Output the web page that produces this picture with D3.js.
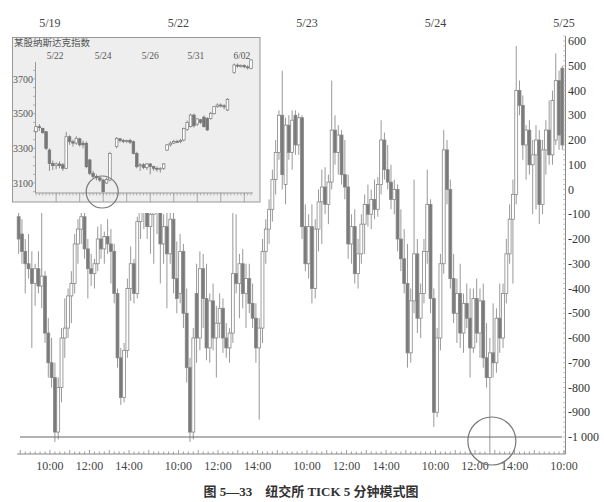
<!DOCTYPE html>
<html>
<head>
<meta charset="utf-8">
<script src="https://cdn.jsdelivr.net/npm/d3@7.9.0/dist/d3.min.js"></script>
<style>
  body { margin: 0; background: #fff; }
  svg { display: block; }
</style>
</head>
<body>
<svg id="chart" width="604" height="502"></svg>
<script>
// NYSE TICK, 10 minute bars, [open, high, low, close]
const bars0518 = [
  [-110,-60,-260,-200],[-180,-120,-300,-250],[-250,-200,-420,-300],[-300,-180,-360,-320],
  [-320,-250,-640,-380],[-380,-300,-470,-320],[-320,-250,-420,-390]
];
const bars0519 = [
  [-390,-90,-480,-350],[-350,-330,-620,-580],[-580,-520,-760,-700],[-700,-600,-800,-760],
  [-760,-700,-1020,-980],[-980,-760,-1010,-800],[-800,-560,-860,-600],[-600,-440,-680,-560],
  [-560,-400,-600,-430],[-430,-330,-540,-380],[-380,-180,-420,-220],[-220,-120,-300,-160],
  [-160,-60,-220,-110],[-110,-80,-280,-240],[-240,-200,-440,-320],[-320,-260,-390,-340],
  [-340,-280,-400,-300],[-300,-150,-330,-200],[-200,-140,-280,-240],[-240,-170,-300,-190],
  [-190,-120,-260,-220],[-220,-160,-380,-250],[-250,-220,-460,-420],[-420,-400,-720,-680],
  [-680,-640,-870,-840],[-840,-620,-860,-650],[-650,-360,-680,-400],[-400,-230,-450,-300],
  [-300,-280,-460,-420],[-420,-110,-440,-130],[-130,-50,-200,-80],[-80,0,-160,-40],
  [-40,20,-200,-150],[-150,-60,-260,-100],[-100,-30,-300,-90],[-90,0,-180,-60],
  [-60,40,-380,-220],[-220,-100,-300,-150],[-150,-60,-480,-260]
];
const bars0522 = [
  [-260,-80,-300,-120],[-120,-60,-420,-360],[-360,-210,-500,-440],[-420,-180,-460,-250],
  [-250,-220,-560,-500],[-500,-400,-780,-720],[-720,-680,-1020,-980],[-980,-560,-1010,-600],
  [-420,-300,-700,-600],[-600,-250,-650,-320],[-320,-260,-560,-440],[-440,-300,-690,-640],
  [-640,-420,-700,-450],[-450,-380,-650,-600],[-600,-470,-760,-540],[-540,-420,-600,-480],
  [-480,-440,-660,-600],[-600,-540,-680,-640],[-640,-560,-700,-580],[-580,-90,-620,-340],
  [-340,-100,-420,-380],[-380,-260,-520,-300],[-300,-240,-480,-420],[-420,-300,-560,-360],
  [-360,-300,-500,-460],[-460,-380,-560,-520],[-520,-460,-700,-640],[-640,-520,-930,-560],
  [-560,-200,-620,-250],[-250,-120,-300,-160],[-160,-40,-220,-80],[-80,80,-130,40],
  [40,200,-20,150],[150,320,120,300],[300,480,0,60],[20,290,-60,260],
  [260,300,120,150],[150,320,80,280],[300,320,140,180]
];
const bars0523 = [
  [180,310,140,290],[290,300,-200,-150],[-150,-60,-330,-300],[-300,-100,-360,-150],
  [-150,-60,-460,-400],[-400,-120,-440,-160],[-160,0,-250,-50],[-50,80,-220,10],
  [10,90,-100,-60],[-60,60,-140,30],[30,440,0,240],[240,300,100,150],
  [150,260,60,220],[220,240,20,60],[60,200,-40,10],[10,60,-280,-220],
  [-220,-100,-300,-150],[-150,-80,-380,-340],[-340,-200,-400,-260],[-260,-100,-300,-140],
  [-140,-20,-260,-60],[-60,20,-150,-100],[-100,0,-160,-40],[-40,40,-120,-80],
  [-80,50,-110,20],[20,280,-20,200],[200,230,40,80],[80,180,0,30],
  [30,100,-80,-40],[-40,40,-100,0],[0,20,-250,-200],[-200,-80,-330,-280],
  [-280,-160,-420,-380],[-380,-220,-720,-660],[-660,-400,-700,-450],[-450,40,-500,-260],
  [-260,-200,-580,-520],[-520,-380,-600,-420],[-420,-200,-460,-250]
];
const bars0524 = [
  [-250,80,-300,-60],[-60,-40,-500,-440],[-440,-400,-960,-900],[-900,-560,-920,-600],
  [-600,-260,-650,-300],[-300,240,-340,160],[160,200,-60,0],[0,40,-400,-360],
  [-360,-260,-540,-500],[-500,-360,-620,-420],[-420,-300,-640,-580],[-580,-420,-660,-460],
  [-460,-380,-560,-520],[-520,-400,-760,-640],[-640,-400,-660,-440],[-440,-360,-620,-580],
  [-580,-400,-680,-450],[-450,-380,-720,-680],[-680,-540,-800,-760],[-760,-600,-1060,-660],
  [-660,-460,-760,-700],[-700,-480,-740,-520],[-520,-380,-660,-600],[-600,-380,-640,-420],
  [-420,-200,-460,-260],[-260,-60,-300,-120],[-120,40,-380,-20],[-20,580,-60,400],
  [400,440,300,340],[340,380,120,180],[180,260,40,240],[240,280,60,100],
  [100,200,-100,140],[140,260,-80,200],[200,240,-140,-60],[-60,200,-100,160],
  [160,280,60,240],[240,360,100,140],[140,400,100,360]
];
const bars0525 = [
  [200,550,180,440],[440,480,160,220],[490,500,160,180]
];

const sessionDays = [-1, 0, 1, 2, 3, 4];
const sessionStarts = ['14:50', '9:30', '9:30', '9:30', '9:30', '9:30'];
const sessionBars = [bars0518, bars0519, bars0522, bars0523, bars0524, bars0525];

const dayLabels = ['5/19', '5/22', '5/23', '5/24', '5/25'];
const timeLabels = ['10:00', '12:00', '14:00'];
const tickLevels = d3.range(-1000, 601, 100);
const baseLevel = -1000;

// inset: index, hourly bars, null = no trading
const insetBars = [
  [3396,3430,3390,3425],[3425,3440,3400,3420],[3415,3420,3385,3390],[3396,3400,3290,3300],
  [3290,3300,3170,3213],[3213,3230,3175,3200],[3200,3220,3180,3210],[3210,3225,3185,3200],
  [3205,3215,3170,3185],[3185,3395,3180,3367],[3367,3375,3320,3338],[3338,3350,3310,3330],
  [3330,3370,3320,3358],[3355,3362,3310,3320],[3330,3345,3300,3320],[3329,3340,3185,3194],
  [3233,3240,3145,3156],[3156,3170,3125,3137],[3137,3150,3115,3130],[3130,3135,3105,3117],
  [3117,3125,3045,3050],[3100,3130,3095,3120],[3117,3280,3110,3271],
  null,
  [3310,3365,3300,3358],[3355,3360,3335,3345],[3345,3355,3330,3340],[3340,3350,3330,3345],
  [3345,3355,3325,3335],[3338,3345,3265,3271],[3271,3280,3185,3194],[3200,3215,3170,3205],
  [3205,3215,3180,3190],[3190,3215,3175,3210],[3210,3215,3150,3195],[3195,3200,3170,3185],
  [3185,3195,3165,3180],[3180,3190,3160,3185],[3185,3215,3175,3210],
  [3290,3325,3285,3320],[3320,3340,3310,3330],[3330,3350,3325,3340],[3340,3350,3330,3338],
  [3338,3355,3330,3345],[3348,3420,3340,3415],[3410,3460,3400,3450],[3425,3500,3420,3492],
  [3492,3500,3420,3430],[3440,3475,3430,3470],[3465,3470,3440,3450],[3480,3490,3420,3425],
  [3473,3480,3400,3406],[3473,3510,3465,3502],[3500,3545,3495,3540],[3540,3560,3535,3550],
  [3550,3560,3535,3545],[3545,3555,3525,3540],[3521,3590,3515,3583],
  null,
  [3737,3790,3730,3781],[3780,3790,3765,3775],[3775,3785,3765,3778],[3778,3785,3762,3770],
  [3770,3780,3755,3768],[3762,3815,3755,3810]
];
const insetTitle = '某股纳斯达克指数';
const insetDates = ['5/22', '5/24', '5/26', '5/31', '6/02'];
const insetDateSlots = [5.7, 20, 34, 47.6, 61.3];
const insetLevels = [3100, 3300, 3500, 3700];

const caption = '图 5—33\u3000纽交所 TICK 5 分钟模式图';

// ---------------------------------------------------------------
const OPEN = 570, SESSION = 390, BAR = 10;
const toMin = s => { const [h, m] = s.split(':').map(Number); return h * 60 + m; };
const T = (day, clock) => day * SESSION + toMin(clock) - OPEN;

const bars = [];
sessionBars.forEach((list, si) => {
  const t0 = T(sessionDays[si], sessionStarts[si]);
  list.forEach((b, j) => bars.push({ t: t0 + j * BAR + BAR / 2, o: b[0], h: b[1], l: b[2], c: b[3] }));
});

const svg = d3.select('#chart');
const grey = '#888';
const serif = '"Liberation Serif", "Times New Roman", serif';

const x = d3.scaleLinear().domain([T(-1, '14:50'), T(4, '10:00')]).range([17, 564]);
const y = d3.scaleLinear().domain([-1000, 600]).range([437, 41]);
const bw = 2.9;

// wicks + bodies
const g = svg.append('g');
g.selectAll('line.wick').data(bars).join('line')
  .attr('x1', d => x(d.t)).attr('x2', d => x(d.t))
  .attr('y1', d => y(d.h)).attr('y2', d => y(d.l))
  .attr('stroke', '#999').attr('stroke-width', 1);
g.selectAll('rect.body').data(bars).join('rect')
  .attr('x', d => x(d.t) - bw / 2)
  .attr('y', d => y(Math.max(d.o, d.c)))
  .attr('width', bw)
  .attr('height', d => Math.max(1, Math.abs(y(d.o) - y(d.c))))
  .attr('fill', d => d.c < d.o ? '#7a7a7a' : '#fff')
  .attr('stroke', grey).attr('stroke-width', 0.8);

// -1000 reference line
svg.append('line')
  .attr('x1', 20).attr('x2', 562)
  .attr('y1', y(baseLevel)).attr('y2', y(baseLevel))
  .attr('stroke', '#666').attr('stroke-width', 1);

// right axis
const fmt = d3.formatLocale({ decimal: '.', thousands: ' ', grouping: [3], currency: ['', ''], minus: '-' }).format(',');
svg.append('line').attr('x1', 565.5).attr('x2', 565.5).attr('y1', 36).attr('y2', 454)
  .attr('stroke', grey);
svg.append('g').selectAll('line').data(d3.range(-1060, 621, 20)).join('line')
  .attr('x1', 563).attr('x2', 565.5)
  .attr('y1', d => y(d)).attr('y2', d => y(d))
  .attr('stroke', '#aaa').attr('stroke-width', 0.7);
svg.append('g').selectAll('text').data(tickLevels).join('text')
  .attr('x', 568).attr('y', d => y(d) + 4)
  .attr('font-family', serif).attr('font-size', 12).attr('fill', '#333')
  .text(d => fmt(d));

// bottom ruler
const ruleY = 454;
svg.append('line').attr('x1', 17).attr('x2', 565.5).attr('y1', ruleY).attr('y2', ruleY).attr('stroke', grey);
const rulerTicks = [];
sessionDays.forEach(d => {
  for (let m = OPEN; m < OPEN + SESSION; m += 15) {
    const t = d * SESSION + m - OPEN;
    if (t >= x.domain()[0] && t <= x.domain()[1]) rulerTicks.push({ t, major: m % 60 === 0 });
  }
});
svg.append('g').selectAll('line').data(rulerTicks).join('line')
  .attr('x1', d => x(d.t)).attr('x2', d => x(d.t))
  .attr('y1', ruleY).attr('y2', d => ruleY - (d.major ? 4 : 2.5))
  .attr('stroke', grey).attr('stroke-width', 0.8);

const timeTicks = [];
dayLabels.forEach((lab, d) => timeLabels.forEach(tl => {
  const t = T(d, tl);
  if (t <= x.domain()[1]) timeTicks.push({ t, tl });
}));
svg.append('g').selectAll('text').data(timeTicks).join('text')
  .attr('x', d => x(d.t)).attr('y', 470)
  .attr('text-anchor', 'middle')
  .attr('font-family', serif).attr('font-size', 12).attr('fill', '#444')
  .text(d => d.tl);

// day labels on top
svg.append('g').selectAll('text').data(dayLabels).join('text')
  .attr('x', (d, i) => x(T(i, '10:00'))).attr('y', 27)
  .attr('text-anchor', 'middle')
  .attr('font-family', serif).attr('font-size', 12).attr('fill', '#444')
  .text(d => d);

// ---------------- inset ----------------
svg.append('rect').attr('x', 0).attr('y', 30).attr('width', 263).attr('height', 183).attr('fill', '#fff');
svg.append('rect').attr('x', 12.5).attr('y', 37.5).attr('width', 247.5).attr('height', 164.5)
  .attr('fill', '#eeeeee').attr('stroke', '#999');

const xi = d3.scaleLinear().domain([0, insetBars.length - 1]).range([36, 251]);
const yi = d3.scaleLinear().domain([3100, 3700]).range([183, 79]);

svg.append('text').attr('x', 14).attr('y', 46)
  .attr('font-family', '"Noto Sans CJK SC", sans-serif').attr('font-size', 9.5).attr('fill', '#555')
  .text(insetTitle);

svg.append('g').selectAll('text').data(insetDates).join('text')
  .attr('x', (d, i) => xi(insetDateSlots[i])).attr('y', 58.5)
  .attr('text-anchor', 'middle')
  .attr('font-family', serif).attr('font-size', 9.5).attr('fill', '#555')
  .text(d => d);

svg.append('g').selectAll('text').data(insetLevels).join('text')
  .attr('x', 13).attr('y', d => yi(d) + 3.5)
  .attr('font-family', serif).attr('font-size', 10).attr('fill', '#555')
  .text(d => d);

// inset axes
const iy0 = 193;
svg.append('line').attr('x1', 35.5).attr('x2', 35.5).attr('y1', 62).attr('y2', iy0).attr('stroke', '#999');
svg.append('line').attr('x1', 35.5).attr('x2', 253).attr('y1', iy0).attr('y2', iy0).attr('stroke', '#999');
svg.append('g').selectAll('line').data(d3.range(3050, 3751, 50)).join('line')
  .attr('x1', 33).attr('x2', 35.5).attr('y1', d => yi(d)).attr('y2', d => yi(d))
  .attr('stroke', '#999').attr('stroke-width', 0.7);
svg.append('g').selectAll('line').data(d3.range(0, insetBars.length)).join('line')
  .attr('x1', d => xi(d)).attr('x2', d => xi(d))
  .attr('y1', iy0).attr('y2', iy0 + 2.5)
  .attr('stroke', '#999').attr('stroke-width', 0.7);
svg.append('g').selectAll('line').data(d3.range(6, insetBars.length, 7)).join('line')
  .attr('x1', d => xi(d)).attr('x2', d => xi(d))
  .attr('y1', iy0).attr('y2', 202)
  .attr('stroke', '#999').attr('stroke-width', 0.8);

// inset candles
const ib = insetBars.map((b, i) => b && { i, o: b[0], h: b[1], l: b[2], c: b[3] }).filter(Boolean);
const gi = svg.append('g');
gi.selectAll('line').data(ib).join('line')
  .attr('x1', d => xi(d.i)).attr('x2', d => xi(d.i))
  .attr('y1', d => yi(d.h)).attr('y2', d => yi(d.l))
  .attr('stroke', '#777').attr('stroke-width', 0.8);
gi.selectAll('rect').data(ib).join('rect')
  .attr('x', d => xi(d.i) - 1.3)
  .attr('y', d => yi(Math.max(d.o, d.c)))
  .attr('width', 2.6)
  .attr('height', d => Math.max(1, Math.abs(yi(d.o) - yi(d.c))))
  .attr('fill', d => d.c < d.o ? '#777' : '#fff')
  .attr('stroke', '#777').attr('stroke-width', 0.7);

// circles marking the lows
const lowInset = ib.reduce((a, b) => (b.l < a.l ? b : a));
svg.append('circle').attr('cx', xi(lowInset.i) - 1).attr('cy', 192).attr('r', 16)
  .attr('fill', 'none').attr('stroke', '#777').attr('stroke-width', 1.2);
const lowMain = bars.reduce((a, b) => (b.l < a.l ? b : a));
svg.append('circle').attr('cx', x(lowMain.t) + 2).attr('cy', y(baseLevel) + 4).attr('r', 24)
  .attr('fill', 'none').attr('stroke', '#777').attr('stroke-width', 1.2);

// caption
svg.append('text').attr('x', 311).attr('y', 496)
  .attr('text-anchor', 'middle')
  .attr('font-family', '"Liberation Serif", "Noto Sans CJK SC", serif')
  .attr('font-weight', 'bold').attr('font-size', 13).attr('fill', '#333')
  .text(caption);
</script>
</body>
</html>
